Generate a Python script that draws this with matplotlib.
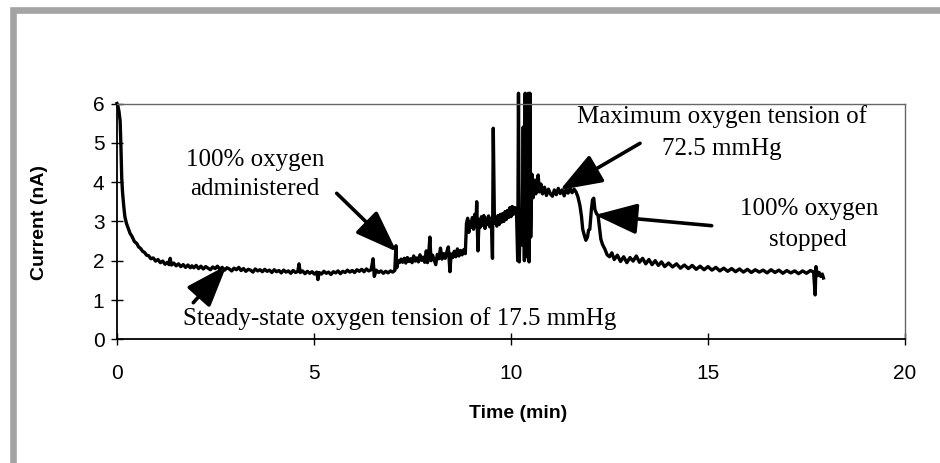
import matplotlib
matplotlib.use("Agg")
import matplotlib.pyplot as plt
from matplotlib.patches import Rectangle

# Electrode current recorded during the oxygen challenge
time_min = [
    # wash-in decay
    0.00, 0.02, 0.05, 0.08, 0.10, 0.12, 0.14, 0.17, 0.20, 0.24,
    0.28, 0.33, 0.38, 0.44, 0.50, 0.55, 0.60, 0.65, 0.70, 0.75,
    0.80, 0.86, 0.92, 0.98, 1.04, 1.10, 1.16, 1.22, 1.28, 1.32,
    1.35, 1.38, 1.44, 1.50, 1.56, 1.62, 1.68, 1.74, 1.80, 1.86, 1.90,
    # steady state on air
    1.95, 2.01, 2.07, 2.13, 2.19, 2.25, 2.31, 2.37, 2.43, 2.49,
    2.55, 2.61, 2.67, 2.73, 2.79, 2.85, 2.91, 2.97, 3.03, 3.09,
    3.15, 3.21, 3.27, 3.33, 3.39, 3.45, 3.51, 3.57, 3.63, 3.69,
    3.75, 3.81, 3.87, 3.93, 3.99, 4.05, 4.11, 4.17, 4.23, 4.29,
    4.35, 4.41, 4.47, 4.53, 4.59, 4.62, 4.65, 4.71, 4.77, 4.83,
    4.89, 4.95, 5.01, 5.07, 5.10, 5.13, 5.19, 5.25, 5.31, 5.37,
    5.43, 5.49, 5.55, 5.61, 5.67, 5.73, 5.79, 5.85, 5.91, 5.97,
    6.03, 6.09, 6.15, 6.21, 6.27, 6.33, 6.39, 6.45, 6.50, 6.53,
    6.58, 6.64, 6.70, 6.76, 6.82, 6.88, 6.94, 7.00,
    # oxygen switched on
    7.05, 7.08, 7.10, 7.13, 7.17, 7.21, 7.25, 7.29, 7.33, 7.37,
    7.41, 7.45, 7.49, 7.53, 7.57, 7.61, 7.65, 7.69, 7.73, 7.77,
    7.81, 7.85, 7.88, 7.91, 7.94, 7.97, 8.01, 8.05, 8.09, 8.13,
    8.17, 8.21, 8.25, 8.29, 8.33, 8.37, 8.41, 8.45, 8.48, 8.52,
    8.56, 8.60, 8.64, 8.68, 8.72, 8.76, 8.80, 8.84,
    8.87, 8.90, 8.93, 8.96, 8.99, 9.02, 9.05, 9.08, 9.11, 9.13,
    9.16, 9.19, 9.22, 9.25, 9.28, 9.31, 9.34, 9.37, 9.40, 9.43,
    9.46, 9.50, 9.53, 9.55, 9.58, 9.61, 9.64, 9.67, 9.70, 9.73,
    9.76, 9.79, 9.82, 9.85, 9.88, 9.91, 9.94, 9.97, 10.00, 10.03,
    10.06, 10.10, 10.14,
    # artefact burst and peak
    10.17, 10.19, 10.21, 10.24, 10.28, 10.31, 10.34, 10.36, 10.38, 10.41,
    10.44, 10.46, 10.48, 10.50, 10.53, 10.56, 10.60, 10.63, 10.66, 10.69,
    10.72, 10.76, 10.80, 10.85, 10.90, 10.95, 11.00, 11.05, 11.10, 11.15,
    11.20, 11.25, 11.30, 11.35, 11.40, 11.45, 11.50, 11.55, 11.60, 11.65,
    # oxygen switched off
    11.70, 11.75, 11.79, 11.82, 11.86, 11.90, 11.94, 11.97, 12.00, 12.04,
    12.07, 12.10, 12.13, 12.17, 12.21, 12.25, 12.28, 12.32, 12.38, 12.44,
    12.50, 12.56, 12.62, 12.70, 12.78, 12.86, 12.94, 13.02, 13.10, 13.18,
    13.26, 13.34, 13.42, 13.50, 13.58, 13.66, 13.74, 13.82, 13.90, 14.00,
    14.10, 14.20, 14.30, 14.40, 14.50, 14.60, 14.70, 14.80, 14.90, 15.00,
    15.10, 15.20, 15.30, 15.40, 15.50, 15.60, 15.70, 15.80, 15.90, 16.00,
    16.10, 16.20, 16.30, 16.40, 16.50, 16.60, 16.70, 16.80, 16.90, 17.00,
    17.10, 17.20, 17.30, 17.40, 17.50, 17.60, 17.68, 17.72, 17.74, 17.78,
    17.82, 17.86, 17.90, 17.93,
]
current_nA = [
    # wash-in decay
    6.00, 5.95, 5.80, 5.55, 4.90, 4.10, 3.75, 3.40, 3.12, 2.95,
    2.84, 2.70, 2.62, 2.49, 2.44, 2.35, 2.31, 2.24, 2.21, 2.14,
    2.13, 2.05, 2.07, 1.99, 2.03, 1.95, 1.99, 1.91, 1.96, 1.90,
    2.06, 1.89, 1.94, 1.87, 1.92, 1.85, 1.90, 1.83, 1.89, 1.82, 1.87,
    # steady state on air
    1.82, 1.88, 1.80, 1.86, 1.79, 1.85, 1.81, 1.77, 1.84, 1.80,
    1.86, 1.78, 1.83, 1.76, 1.82, 1.79, 1.74, 1.81, 1.77, 1.83,
    1.75, 1.80, 1.73, 1.78, 1.76, 1.71, 1.79, 1.74, 1.77, 1.72,
    1.78, 1.73, 1.76, 1.70, 1.77, 1.72, 1.75, 1.69, 1.76, 1.71,
    1.74, 1.68, 1.75, 1.70, 1.73, 1.92, 1.70, 1.74, 1.67, 1.73,
    1.68, 1.72, 1.66, 1.71, 1.52, 1.70, 1.66, 1.73, 1.68, 1.71,
    1.65, 1.72, 1.69, 1.74, 1.67, 1.73, 1.70, 1.76, 1.71, 1.75,
    1.70, 1.77, 1.73, 1.78, 1.72, 1.79, 1.74, 1.77, 2.05, 1.60,
    1.76, 1.70, 1.74, 1.68, 1.73, 1.69, 1.74, 1.71,
    # oxygen switched on
    1.75, 2.38, 1.82, 2.00, 1.95, 2.04, 1.96, 2.06, 1.94, 2.08,
    1.98, 2.05, 1.95, 2.12, 1.99, 2.07, 1.97, 2.15, 2.01, 2.09,
    1.96, 2.25, 1.95, 2.12, 2.60, 2.00, 2.14, 2.02, 1.90, 2.16,
    2.05, 2.32, 2.04, 2.18, 2.06, 2.22, 2.35, 1.72, 2.17, 2.08,
    2.24, 2.10, 2.30, 2.12, 2.26, 2.15, 2.28, 2.18,
    2.95, 3.08, 2.72, 3.00, 2.85, 3.10, 2.80, 3.18, 2.88, 3.50,
    2.25, 3.05, 2.85, 3.12, 2.90, 3.15, 2.82, 3.08, 2.92, 3.14,
    2.86, 3.08, 2.06, 5.37, 2.95, 3.10, 2.88, 3.15, 2.92, 3.18,
    2.98, 3.20, 3.00, 3.25, 3.05, 3.28, 3.10, 3.35, 3.12, 3.38,
    3.18, 3.35, 3.25,
    # artefact burst and peak
    2.00, 6.26, 1.97, 3.30, 2.40, 5.40, 2.00, 6.26, 2.10, 3.90,
    6.26, 1.97, 6.26, 2.60, 4.20, 3.60, 4.05, 3.70, 4.00, 4.18,
    3.75, 3.95, 3.70, 3.87, 3.66, 3.82, 3.70, 3.64, 3.80, 3.68,
    3.84, 3.71, 3.80, 3.65, 3.82, 3.72, 3.84, 3.73, 3.82, 3.75,
    # oxygen switched off
    3.62, 3.40, 3.12, 2.80, 2.65, 2.52, 2.60, 2.78, 2.80, 3.30,
    3.55, 3.59, 3.30, 3.20, 3.15, 2.80, 2.55, 2.42, 2.30, 2.15,
    2.10, 2.20, 2.03, 2.14, 1.98, 2.10, 1.95, 2.08, 1.99, 2.12,
    1.96, 2.06, 1.92, 2.03, 1.90, 2.00, 1.88, 1.97, 1.85, 1.94,
    1.84, 1.92, 1.81, 1.89, 1.80, 1.88, 1.78, 1.86, 1.77, 1.85,
    1.76, 1.83, 1.74, 1.81, 1.73, 1.80, 1.72, 1.79, 1.71, 1.78,
    1.70, 1.77, 1.71, 1.76, 1.69, 1.77, 1.70, 1.76, 1.68, 1.75,
    1.69, 1.74, 1.67, 1.74, 1.68, 1.75, 1.71, 1.13, 1.85, 1.62,
    1.70, 1.60, 1.66, 1.56,
]

x_ticks = [0, 5, 10, 15, 20]
y_ticks = [0, 1, 2, 3, 4, 5, 6]
x_label = "Time (min)"
y_label = "Current (nA)"

W, H = 940, 463
SERIF = "Liberation Serif"
SANS = "Liberation Sans"

fig = plt.figure(figsize=(W / 100, H / 100), dpi=100)
fig.patch.set_facecolor("white")

# grey page frame running off the right and bottom edges
fig.add_artist(Rectangle((13.3 / W, -0.1), 1.2, (H - 10) / H + 0.1,
                         transform=fig.transFigure, fill=False,
                         edgecolor="#a4a4a4", linewidth=4.8, clip_on=False))

ax = fig.add_axes([117 / W, (H - 339.3) / H, 788 / W, 235.8 / H])
ax.plot(time_min, current_nA, color="black", linewidth=2.4, clip_on=False)

ax.set_xlim(0, 20)
ax.set_ylim(0, 6)
ax.set_xticks(x_ticks)
ax.set_yticks(y_ticks)
ax.tick_params(direction="inout", length=8, width=1.0, colors="black",
               labelsize=15)
ax.tick_params(axis="y", pad=5)
ax.tick_params(axis="x", pad=14)
for lab in ax.get_xticklabels() + ax.get_yticklabels():
    lab.set_fontfamily(SANS)

for side in ("left", "bottom"):
    ax.spines[side].set_color("black")
    ax.spines[side].set_linewidth(1.3)
for side in ("top", "right"):
    ax.spines[side].set_color("#666666")
    ax.spines[side].set_linewidth(1.0)

fig.text(518 / W, 1 - 413 / H, x_label, ha="center", va="center",
         fontsize=14, fontweight="bold", family=SANS)
fig.text(40 / W, 1 - 222 / H, y_label, ha="center", va="center",
         rotation=90, fontsize=14, fontweight="bold", family=SANS)


def at(px, py):
    """Pixel position on the page (origin top-left) to data coordinates."""
    return tuple(ax.transData.inverted().transform((px, H - py)))


labels = [
    ("100% oxygen", 255, 166),
    ("administered", 255, 195),
    ("Steady-state oxygen tension of 17.5 mmHg", 400, 325),
    ("Maximum oxygen tension of", 722, 123.3),
    ("72.5 mmHg", 722, 155),
    ("100% oxygen", 809, 215),
    ("stopped", 808, 245.7),
]
for text, px, py in labels:
    x, y = at(px, py)
    ax.text(x, y, text, ha="center", va="baseline", fontsize=18,
            family=SERIF, clip_on=False)

arrows = [
    ((336.7, 193.3), (396.7, 251.7)),
    ((193.3, 302.7), (226.7, 265.3)),
    ((640.0, 143.3), (560.0, 190.0)),
    ((711.7, 225.7), (595.0, 215.0)),
]
for tail, tip in arrows:
    ax.annotate("", xy=at(*tip), xytext=at(*tail), annotation_clip=False,
                arrowprops=dict(arrowstyle="-|>,head_length=2.6,head_width=0.95",
                                mutation_scale=10, lw=2.6, color="black",
                                shrinkA=0, shrinkB=0))

fig.savefig("out.png", dpi=100)
